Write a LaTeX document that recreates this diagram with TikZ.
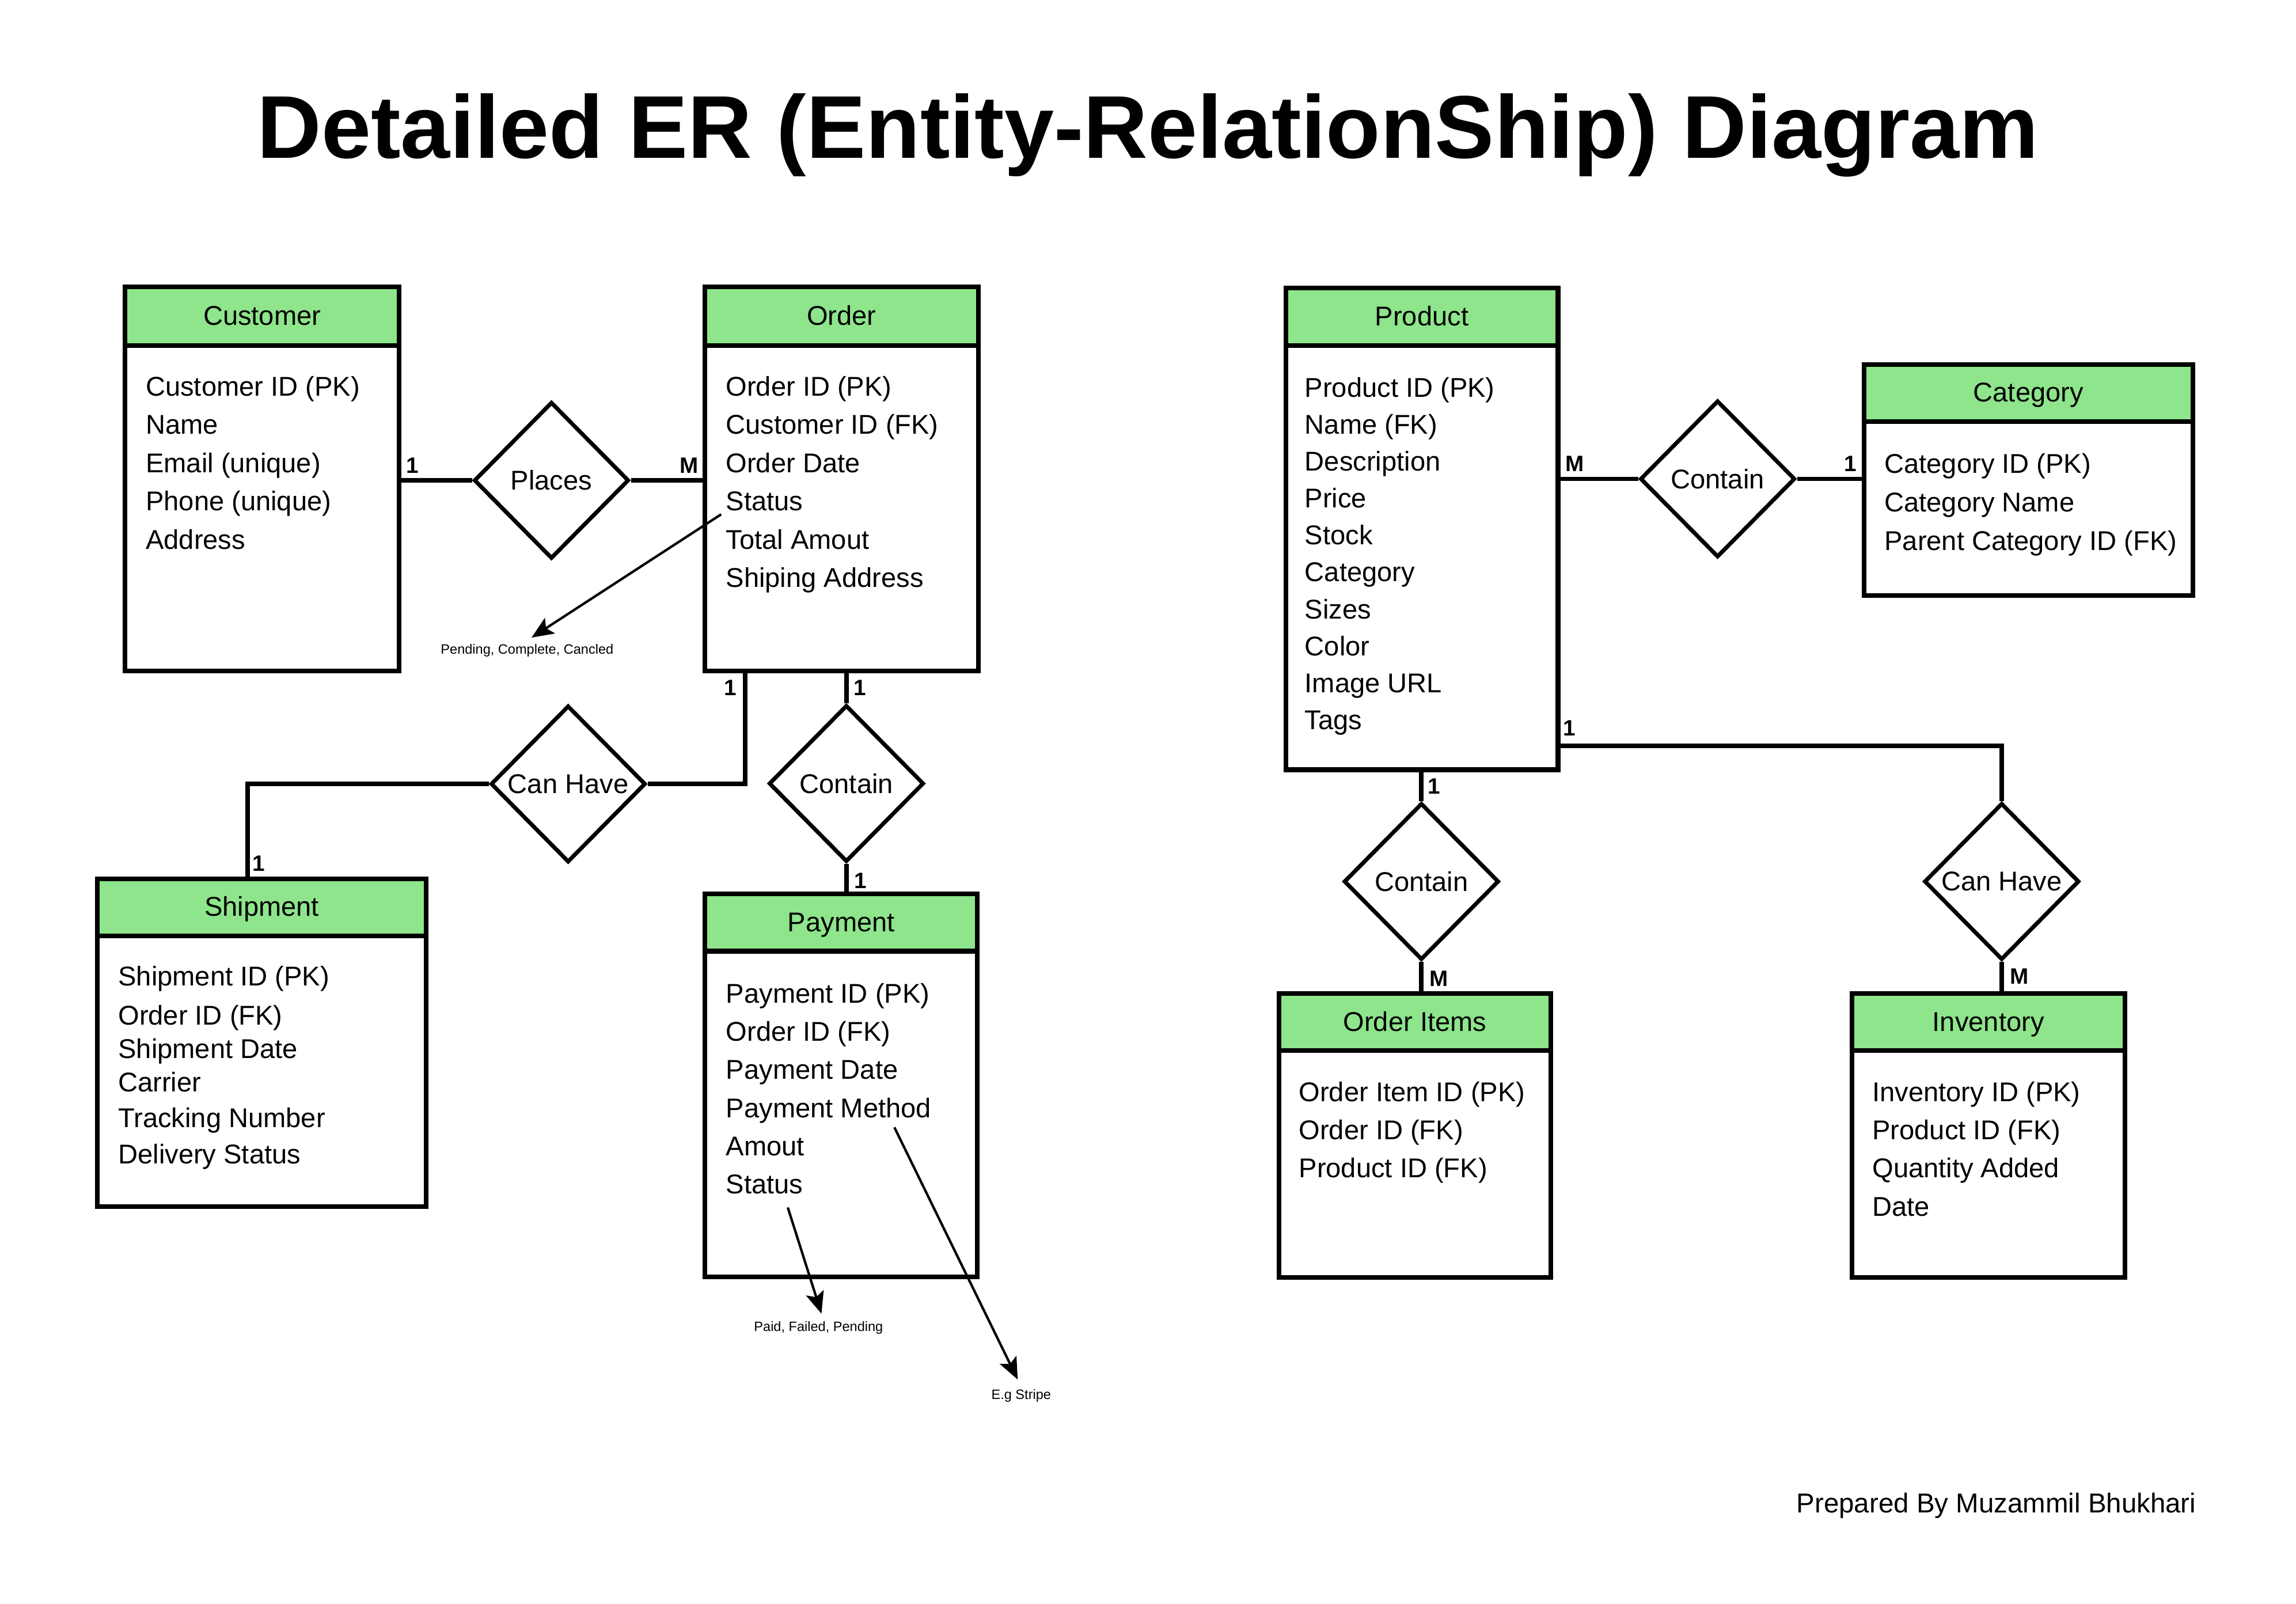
\documentclass[tikz,border=0pt]{standalone}
\usepackage{fontspec}
\setmainfont{Liberation Sans}
\usetikzlibrary{shapes.geometric,fit,arrows.meta}
\definecolor{hdrgreen}{RGB}{142,229,139}
\begin{document}
\begin{tikzpicture}[x=0.025427cm,y=-0.025427cm,
  entbox/.style={draw,line width=2.3pt,inner sep=0pt,fill=white},
  enthead/.style={draw,line width=2.3pt,inner sep=0pt,fill=hdrgreen},
  enttitle/.style={anchor=base,inner sep=0pt,font=\fontsize{13.4}{15}\selectfont},
  attr/.style={anchor=base west,inner sep=0pt,font=\fontsize{13.4}{15}\selectfont},
  rel/.style={diamond,draw,line width=2pt,minimum width=2.69cm,minimum height=2.72cm,inner sep=0pt,font=\fontsize{13.4}{15}\selectfont},
  conn/.style={line width=2.2pt},
  card/.style={anchor=base west,inner sep=0pt,font=\bfseries\fontsize{11}{13}\selectfont},
  notetext/.style={inner sep=0pt,font=\fontsize{6.7}{8}\selectfont},
  notearrow/.style={line width=1.2pt,-{Stealth[length=0.38cm,width=0.32cm,inset=0.08cm]}}
]
\useasboundingbox (0,0) rectangle (1568,1095);
\fill[white] (0,0) rectangle (1568,1095);

\newcommand{\erentity}[7]{%
  \node[entbox,fit={(#2,#3)(#4,#6)}] (#1) {};
  \node[enthead,fit={(#2,#3)(#4,#5)}] (#1-head) {};
  \node[enttitle] (#1-title) at ({(#2+#4)/2},{(#3+#5)/2+6}) {#7};
}

% title
\node[anchor=base,inner sep=0pt,font=\bfseries\fontsize{44}{50}\selectfont] (title) at (784,108) {Detailed ER (Entity-RelationShip) Diagram};

% entities
\erentity{cust}{85.5}{196}{272.5}{236}{458}{Customer}
\erentity{order}{481.5}{196}{668}{236}{458}{Order}
\erentity{prod}{878}{196.5}{1064}{236}{525.6}{Product}
\erentity{cat}{1273}{249}{1497.5}{288}{406.5}{Category}
\erentity{ship}{66.5}{600}{291}{639}{824}{Shipment}
\erentity{pay}{481.5}{610.5}{667.5}{649.5}{871.8}{Payment}
\erentity{oitems}{873.5}{678.5}{1059}{717.5}{872.3}{Order Items}
\erentity{inv}{1264.7}{678.5}{1451}{717.5}{872.3}{Inventory}

% attributes
\foreach \t [count=\i from 0] in {Customer ID (PK),Name,Email (unique),Phone (unique),Address}
  \node[attr] (cust-a\i) at (99.3,{270.4+26.1*\i}) {\t};
\foreach \t [count=\i from 0] in {Order ID (PK),Customer ID (FK),Order Date,Status,Total Amout,Shiping Address}
  \node[attr] (order-a\i) at (495.5,{270.4+26.1*\i}) {\t};
\foreach \t [count=\i from 0] in {Product ID (PK),Name (FK),Description,Price,Stock,Category,Sizes,Color,Image URL,Tags}
  \node[attr] (prod-a\i) at (890.8,{271.2+25.2*\i}) {\t};
\foreach \t [count=\i from 0] in {Category ID (PK),Category Name,Parent Category ID (FK)}
  \node[attr] (cat-a\i) at (1286.7,{323.1+26.3*\i}) {\t};
\foreach \t/\y [count=\i from 0] in {Shipment ID (PK)/673,Order ID (FK)/699.8,Shipment Date/722.7,Carrier/745.5,Tracking Number/770,Delivery Status/794.5}
  \node[attr] (ship-a\i) at (80.5,\y) {\t};
\foreach \t [count=\i from 0] in {Payment ID (PK),Order ID (FK),Payment Date,Payment Method,Amout,Status}
  \node[attr] (pay-a\i) at (495.6,{684.7+26.1*\i}) {\t};
\foreach \t [count=\i from 0] in {Order Item ID (PK),Order ID (FK),Product ID (FK)}
  \node[attr] (oitems-a\i) at (886.8,{752+26.1*\i}) {\t};
\foreach \t [count=\i from 0] in {Inventory ID (PK),Product ID (FK),Quantity Added,Date}
  \node[attr] (inv-a\i) at (1278.4,{752+26.1*\i}) {\t};

% relationships
\node[rel] (places) at (376.6,328) {Places};
\node[rel] (canhave1) at (388,535.3) {Can Have};
\node[rel] (contain1) at (578,535) {Contain};
\node[rel] (contain2) at (1173,327) {Contain};
\node[rel] (contain3) at (970.7,601.9) {Contain};
\node[rel] (canhave2) at (1367,601.9) {Can Have};

% connectors
\draw[conn] (cust.east |- places.west) -- (places.west);
\draw[conn] (places.east) -- (order.west |- places.east);
\draw[conn] (order.south -| 509,0) |- (canhave1.east);
\draw[conn] (canhave1.west) -| (ship.north -| 169,0);
\draw[conn] (order.south -| contain1.north) -- (contain1.north);
\draw[conn] (contain1.south) -- (pay.north -| contain1.south);
\draw[conn] (prod.east |- contain2.west) -- (contain2.west);
\draw[conn] (contain2.east) -- (cat.west |- contain2.east);
\draw[conn] (prod.south -| contain3.north) -- (contain3.north);
\draw[conn] (contain3.south) -- (oitems.north -| contain3.south);
\draw[conn] (prod.east |- 0,509.3) -| (canhave2.north);
\draw[conn] (canhave2.south) -- (inv.north -| canhave2.south);

% cardinalities
\node[card] (k1) at (277,323) {1};
\node[card] (k2) at (464,323) {M};
\node[card] (k3) at (494.4,474.7) {1};
\node[card] (k4) at (582.8,474.7) {1};
\node[card] (k5) at (583,606.5) {1};
\node[card] (k6) at (172.3,595) {1};
\node[card] (k7) at (1069,322) {M};
\node[card] (k8) at (1259.3,322) {1};
\node[card] (k9) at (1067.3,502.6) {1};
\node[card] (k10) at (975,542.3) {1};
\node[card] (k11) at (976,673.3) {M};
\node[card] (k12) at (1372.4,672) {M};

% notes
\node[notetext] (n1) at (360,444.3) {Pending, Complete, Cancled};
\node[notetext] (n2) at (559,906.6) {Paid, Failed, Pending};
\node[notetext] (n3) at (697.4,953) {E.g Stripe};
\coordinate (n1s) at (492.5,351.2);
\coordinate (n1e) at (363,435.4);
\coordinate (n2s) at (538,824.5);
\coordinate (n2e) at (561,897);
\coordinate (n3s) at (610.8,769.8);
\coordinate (n3e) at (695,942);
\draw[notearrow] (n1s) -- (n1e);
\draw[notearrow] (n2s) -- (n2e);
\draw[notearrow] (n3s) -- (n3e);

% footer
\node[anchor=base east,inner sep=0pt,font=\fontsize{13.5}{16}\selectfont] (footer) at (1500,1032.8) {Prepared By Muzammil Bhukhari};
\end{tikzpicture}
\end{document}
